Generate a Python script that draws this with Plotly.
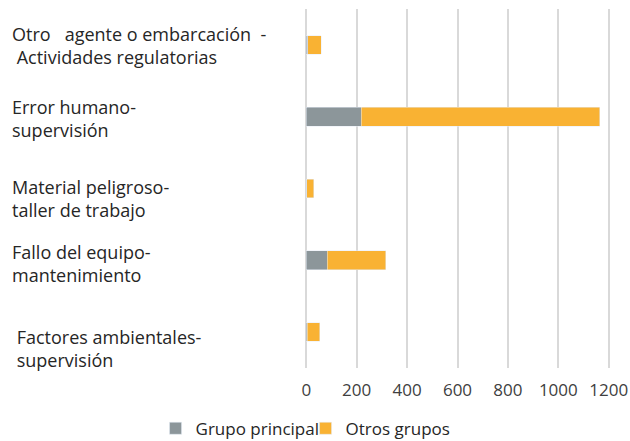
import plotly.graph_objects as go

categories = [
    "Otro&nbsp;&nbsp; agente o embarcación&nbsp; -<br> Actividades regulatorias",
    "Error humano-<br>supervisión",
    "Material peligroso-<br>taller de trabajo",
    "Fallo del equipo-<br>mantenimiento",
    " Factores ambientales-<br> supervisión",
]
grupo_principal = [5, 218, 2, 84, 4]
otros_grupos = [55, 946, 27, 232, 49]
x_ticks = [0, 200, 400, 600, 800, 1000, 1200]

GREY = "#8c969a"
ORANGE = "#f9b233"
FONT = "Open Sans"

fig = go.Figure()
fig.add_trace(go.Bar(y=categories, x=grupo_principal, orientation="h",
                     name="Grupo principal", marker_color=GREY))
fig.add_trace(go.Bar(y=categories, x=otros_grupos, orientation="h",
                     name="Otros grupos", marker_color=ORANGE))

# left-aligned category labels, sitting a bit lower than the bars
label_shift = [-1, -2, -10, -3, -16]
for cat, dy in zip(categories, label_shift):
    fig.add_annotation(x=-0.968, xref="paper", y=cat, yref="y", text=cat,
                       xanchor="left", yanchor="middle", align="left",
                       showarrow=False, yshift=dy,
                       font=dict(family=FONT, size=18, color="#262626"))

fig.update_layout(
    barmode="stack",
    bargap=0.74,
    width=630, height=441,
    margin=dict(l=305, r=20, t=9, b=73, autoexpand=False),
    plot_bgcolor="white", paper_bgcolor="white",
    font=dict(family=FONT, size=17, color="#404040"),
    xaxis=dict(range=[-5, 1205], tickvals=x_ticks, showgrid=True,
               gridcolor="#d9d9d9", gridwidth=1.5, zeroline=False,
               ticks="", automargin=False, ticklabelstandoff=10,
               tickfont=dict(size=17, color="#404040")),
    yaxis=dict(autorange="reversed", showticklabels=False, showgrid=False,
               zeroline=False, automargin=False),
    legend=dict(orientation="h", x=-0.49, xanchor="left", y=-0.119,
                yanchor="top", traceorder="normal",
                font=dict(size=17, color="#262626"),
                itemwidth=30, entrywidth=105, entrywidthmode="pixels"),
)

fig.write_html("out.html", config={"displayModeBar": False},
               post_script="document.body.style.margin='0';"
                           "document.body.style.overflow='hidden';")
